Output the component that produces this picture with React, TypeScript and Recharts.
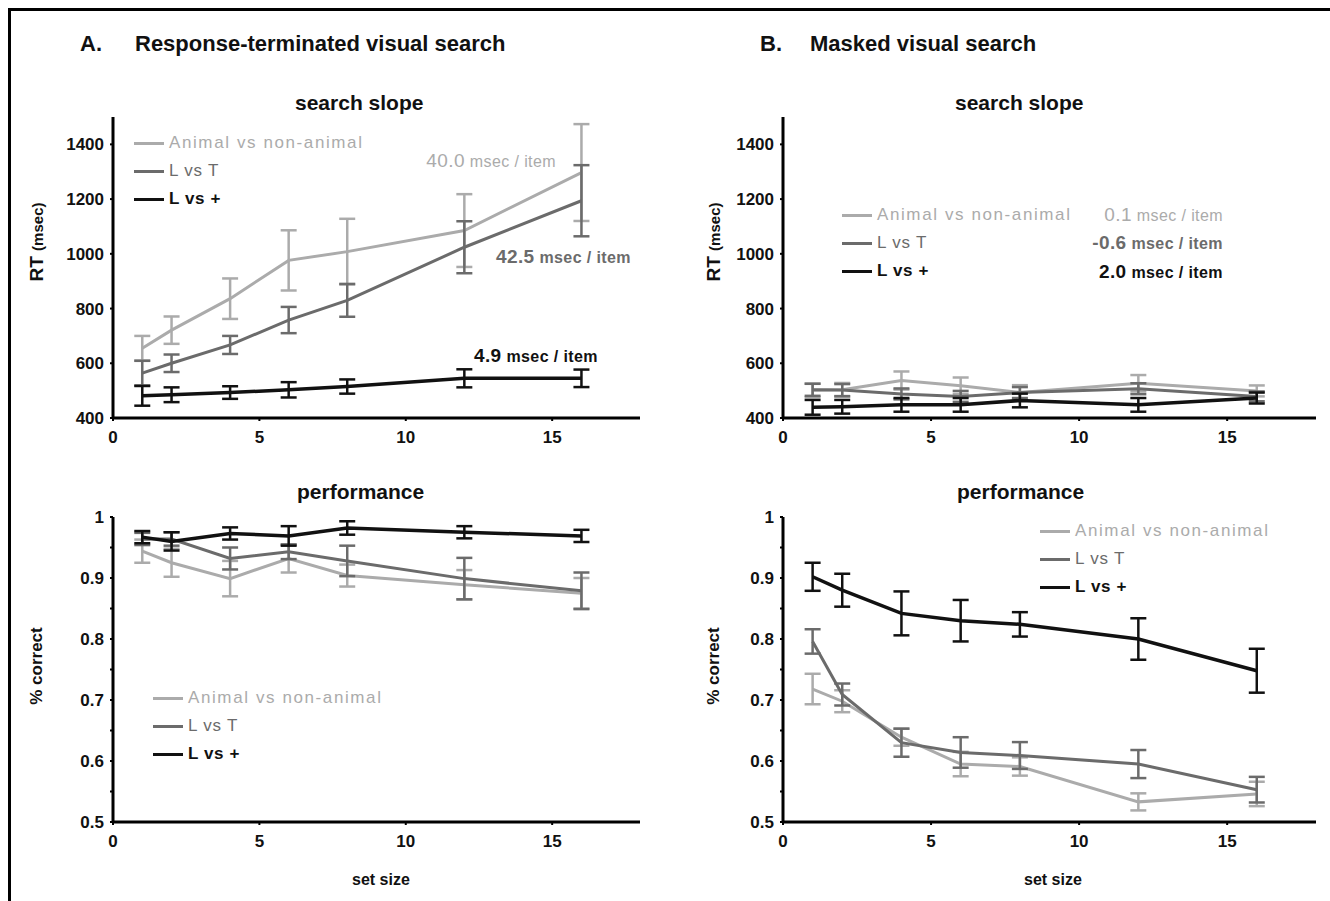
import React from "react";
import { LineChart, Line, XAxis, YAxis, ErrorBar, Legend } from "recharts";

const setSizes = [1, 2, 4, 6, 8, 12, 16];
const seriesNames = ["Animal vs non-animal", "L vs T", "L vs +"];
const sizeTicks = [0, 5, 10, 15];
const rtTicks = [400, 600, 800, 1000, 1200, 1400];
const pcTicks = [0.5, 0.55, 0.6, 0.65, 0.7, 0.75, 0.8, 0.85, 0.9, 0.95, 1];

// A. response-terminated, RT (msec)
const rtAnimalA = [655, 721, 836, 976, 1008, 1085, 1297];
const rtAnimalAErr = [45, 50, 74, 110, 120, 133, 177];
const rtLTA = [564, 600, 667, 758, 830, 1024, 1194];
const rtLTAErr = [45, 32, 33, 48, 60, 95, 130];
const rtLPA = [481, 485, 493, 503, 515, 545, 545];
const rtLPAErr = [36, 27, 23, 28, 26, 33, 32];
const slopesA = ["40.0", "42.5", "4.9"];

// B. masked, RT (msec)
const rtAnimalB = [501, 503, 537, 518, 493, 527, 499];
const rtAnimalBErr = [25, 25, 33, 30, 27, 30, 20];
const rtLTB = [503, 502, 488, 479, 493, 507, 479];
const rtLTBErr = [22, 22, 20, 20, 20, 20, 18];
const rtLPB = [439, 441, 448, 448, 464, 448, 473];
const rtLPBErr = [27, 25, 25, 25, 25, 25, 20];
const slopesB = ["0.1", "-0.6", "2.0"];

// A. performance (% correct)
const pcAnimalA = [0.944, 0.925, 0.899, 0.932, 0.904, 0.889, 0.875];
const pcAnimalAErr = [0.019, 0.023, 0.029, 0.023, 0.018, 0.024, 0.025];
const pcLTA = [0.964, 0.964, 0.932, 0.943, 0.928, 0.899, 0.879];
const pcLTAErr = [0.01, 0.011, 0.018, 0.012, 0.025, 0.034, 0.03];
const pcLPA = [0.967, 0.96, 0.973, 0.969, 0.982, 0.975, 0.969];
const pcLPAErr = [0.01, 0.015, 0.01, 0.016, 0.011, 0.01, 0.01];

// B. performance (% correct)
const pcAnimalB = [0.718, 0.698, 0.639, 0.595, 0.591, 0.533, 0.546];
const pcAnimalBErr = [0.025, 0.018, 0.014, 0.02, 0.015, 0.014, 0.02];
const pcLTB = [0.796, 0.709, 0.63, 0.614, 0.609, 0.595, 0.553];
const pcLTBErr = [0.02, 0.018, 0.023, 0.025, 0.022, 0.023, 0.021];
const pcLPB = [0.902, 0.88, 0.842, 0.83, 0.824, 0.8, 0.748];
const pcLPBErr = [0.023, 0.027, 0.036, 0.034, 0.02, 0.034, 0.036];

const LIGHT = "#ababab";
const MID = "#6b6b6b";
const DARK = "#111111";
const colors = [LIGHT, MID, DARK];
const FONT = '"Liberation Sans", Arial, sans-serif';

function makeRows(
  a: number[], aErr: number[], t: number[], tErr: number[], p: number[], pErr: number[]
) {
  return setSizes.map((size, i) => ({
    size,
    animal: a[i], animalErr: aErr[i],
    lt: t[i], ltErr: tErr[i],
    lp: p[i], lpErr: pErr[i],
  }));
}

const rowsRtA = makeRows(rtAnimalA, rtAnimalAErr, rtLTA, rtLTAErr, rtLPA, rtLPAErr);
const rowsRtB = makeRows(rtAnimalB, rtAnimalBErr, rtLTB, rtLTBErr, rtLPB, rtLPBErr);
const rowsPcA = makeRows(pcAnimalA, pcAnimalAErr, pcLTA, pcLTAErr, pcLPA, pcLPAErr);
const rowsPcB = makeRows(pcAnimalB, pcAnimalBErr, pcLTB, pcLTBErr, pcLPB, pcLPBErr);

const pcFormat = (v: number) => {
  const k = Math.round(v * 100);
  if (k % 10 !== 0) return "";
  return k === 100 ? "1" : (k / 100).toFixed(1);
};

const tickStyle = { fill: DARK, fontSize: 17, fontWeight: "bold", fontFamily: FONT };
const legendSpacing = [1.6, 0.8, 0.6];

function LegendBox({ payload }: any) {
  // keep the series order, not the alphabetical one
  const items = [...(payload || [])].sort(
    (a: any, b: any) => seriesNames.indexOf(a.value) - seriesNames.indexOf(b.value)
  );
  return (
    <div style={{ fontFamily: FONT }}>
      {items.map((entry: any) => {
        const idx = seriesNames.indexOf(entry.value);
        return (
          <div key={entry.value} style={{ display: "flex", alignItems: "center", height: 28 }}>
            <div style={{ width: 30, height: 3, background: entry.color, marginRight: 5 }} />
            <span
              style={{
                color: entry.color,
                fontSize: 17,
                letterSpacing: legendSpacing[idx],
                fontWeight: idx === 2 ? "bold" : "normal",
                whiteSpace: "nowrap",
              }}
            >
              {entry.value}
            </span>
          </div>
        );
      })}
    </div>
  );
}

type PanelProps = {
  rows: any[];
  left: number;
  top: number;
  width: number;
  height: number;
  yDomain: [number, number];
  yTicks: number[];
  fmt?: (v: number) => string;
  legendLeft: number;
  legendTop: number;
};

function Panel({ rows, left, top, width, height, yDomain, yTicks, fmt, legendLeft, legendTop }: PanelProps) {
  const keys = ["animal", "lt", "lp"];
  return (
    <div style={{ position: "absolute", left, top }}>
      <LineChart width={width} height={height} data={rows} margin={{ top: 10, right: 10, left: 0, bottom: 0 }}>
        <XAxis
          type="number"
          dataKey="size"
          domain={[0, 18]}
          ticks={sizeTicks}
          allowDataOverflow
          height={30}
          axisLine={{ stroke: "#000", strokeWidth: 3 }}
          tickLine={{ stroke: "#000", strokeWidth: 2 }}
          tickSize={3}
          tickMargin={10}
          tick={tickStyle}
        />
        <YAxis
          type="number"
          domain={yDomain}
          ticks={yTicks}
          allowDataOverflow
          width={73}
          interval={0}
          tickFormatter={fmt}
          axisLine={{ stroke: "#000", strokeWidth: 3 }}
          tickLine={{ stroke: "#000", strokeWidth: 2 }}
          tickSize={3}
          tickMargin={6}
          tick={tickStyle}
        />
        <Legend
          layout="vertical"
          align="center"
          verticalAlign="middle"
          content={<LegendBox />}
          wrapperStyle={{ left: legendLeft, top: legendTop, width: 260 }}
        />
        {keys.map((k, i) => (
          <Line
            key={k}
            name={seriesNames[i]}
            type="linear"
            dataKey={k}
            stroke={colors[i]}
            strokeWidth={i === 2 ? 3.5 : 3}
            dot={false}
            activeDot={false}
            isAnimationActive={false}
          >
            <ErrorBar dataKey={k + "Err"} direction="y" width={8} stroke={colors[i]} strokeWidth={2.5} isAnimationActive={false} />
          </Line>
        ))}
      </LineChart>
    </div>
  );
}

function Text({ x, y, size, children, style }: any) {
  return (
    <div
      style={{
        position: "absolute",
        left: x,
        top: y,
        fontSize: size,
        fontWeight: "bold",
        lineHeight: 1,
        whiteSpace: "nowrap",
        color: DARK,
        ...style,
      }}
    >
      {children}
    </div>
  );
}

// slope annotation, anchored on its right edge
function Slope({ right, y, value, color, bold }: any) {
  return (
    <div
      style={{
        position: "absolute",
        left: right,
        top: y - 10,
        transform: "translateX(-100%)",
        color,
        fontWeight: bold ? "bold" : "normal",
        whiteSpace: "nowrap",
        lineHeight: 1,
        letterSpacing: 0.4,
      }}
    >
      <span style={{ fontSize: 19 }}>{value}</span>
      <span style={{ fontSize: 16 }}> msec / item</span>
    </div>
  );
}

function VLabel({ x, y, children }: any) {
  return (
    <div
      style={{
        position: "absolute",
        left: x,
        top: y,
        transform: "translate(-50%, -50%) rotate(-90deg)",
        whiteSpace: "nowrap",
        fontWeight: "bold",
        color: DARK,
        lineHeight: 1,
      }}
    >
      {children}
    </div>
  );
}

export default function App() {
  return (
    <div
      style={{
        position: "relative",
        width: 1330,
        height: 901,
        background: "#fff",
        overflow: "hidden",
        fontFamily: FONT,
      }}
    >
      <style>{`body{margin:0;overflow:hidden;}`}</style>
      <div
        style={{
          position: "absolute",
          left: 8,
          top: 8,
          width: 1330,
          height: 901,
          borderTop: "3px solid #000",
          borderLeft: "3px solid #000",
        }}
      />

      <Text x={80} y={33} size={22}>A.</Text>
      <Text x={135} y={33} size={22}>Response-terminated visual search</Text>
      <Text x={760} y={33} size={22}>B.</Text>
      <Text x={810} y={33} size={22}>Masked visual search</Text>

      <Text x={295} y={92} size={21}>search slope</Text>
      <Text x={955} y={92} size={21}>search slope</Text>
      <Text x={297} y={481} size={21}>performance</Text>
      <Text x={957} y={481} size={21}>performance</Text>

      <VLabel x={36} y={242}>
        <span style={{ fontSize: 19 }}>RT </span>
        <span style={{ fontSize: 15 }}>(msec)</span>
      </VLabel>
      <VLabel x={713} y={242}>
        <span style={{ fontSize: 19 }}>RT </span>
        <span style={{ fontSize: 15 }}>(msec)</span>
      </VLabel>
      <VLabel x={36} y={666}>
        <span style={{ fontSize: 17 }}>% correct</span>
      </VLabel>
      <VLabel x={713} y={666}>
        <span style={{ fontSize: 17 }}>% correct</span>
      </VLabel>

      <Text x={352} y={872} size={16}>set size</Text>
      <Text x={1024} y={872} size={16}>set size</Text>

      <Panel rows={rowsRtA} left={40} top={107} width={610} height={341} yDomain={[400, 1500]} yTicks={rtTicks} legendLeft={94} legendTop={22} />
      <Panel rows={rowsRtB} left={710} top={107} width={616} height={341} yDomain={[400, 1500]} yTicks={rtTicks} legendLeft={132} legendTop={94} />
      <Panel rows={rowsPcA} left={40} top={507} width={610} height={345} yDomain={[0.5, 1]} yTicks={pcTicks} fmt={pcFormat} legendLeft={113} legendTop={177} />
      <Panel rows={rowsPcB} left={710} top={507} width={616} height={345} yDomain={[0.5, 1]} yTicks={pcTicks} fmt={pcFormat} legendLeft={330} legendTop={10} />

      <Slope right={556} y={161} value={slopesA[0]} color={LIGHT} />
      <Slope right={631} y={257} value={slopesA[1]} color={MID} bold />
      <Slope right={598} y={356} value={slopesA[2]} color={DARK} bold />
      <Slope right={1223} y={215} value={slopesB[0]} color={LIGHT} />
      <Slope right={1223} y={243} value={slopesB[1]} color={MID} bold />
      <Slope right={1223} y={272} value={slopesB[2]} color={DARK} bold />
    </div>
  );
}
